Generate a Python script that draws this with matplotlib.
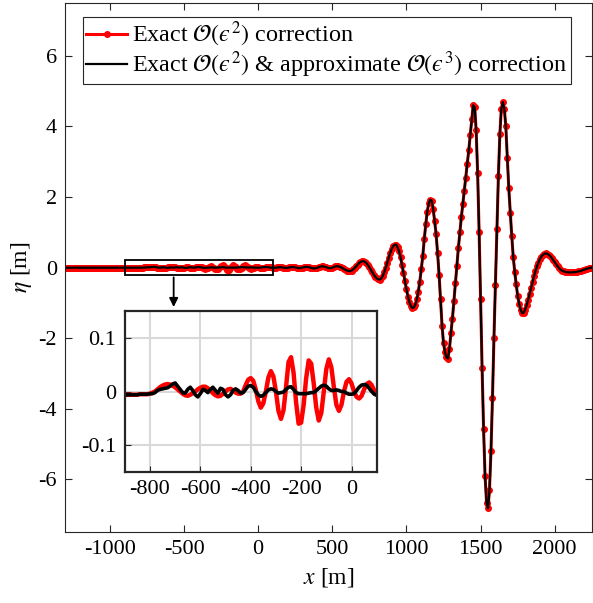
import numpy as np
import matplotlib
matplotlib.use('Agg')
import matplotlib.pyplot as plt
from matplotlib.patches import Rectangle

plt.rcParams['font.family'] = ['Liberation Serif', 'DejaVu Serif']
plt.rcParams['mathtext.fontset'] = 'stix'
plt.rcParams['axes.unicode_minus'] = False

# sample positions [m]
x_far = np.arange(-1300, -900, 10)
x_zoom = np.arange(-900, 101, 10)
x_wave = np.arange(110, 2251, 10)

# far left, nearly flat
eta_far = [-0.006] * 10 + [-0.005] * 10 + [-0.006] * 10 + [-0.006] * 10

# zoomed window -900..100, exact O(eps^2)
eta_o2_zoom = [
    -0.006, -0.006, -0.006, -0.006, -0.006, -0.006, -0.005, -0.005, -0.005, -0.005,
    -0.004, -0.002, 0.0, 0.004, 0.008, 0.011, 0.013, 0.014, 0.013, 0.011,
    0.008, 0.004, 0.0, -0.004, -0.007, -0.008, -0.006, -0.003, 0.0, 0.004,
    0.007, 0.009, 0.009, 0.006, 0.002, -0.003, -0.007, -0.009, -0.008, -0.004,
    0.0, 0.004, 0.005, 0.002, -0.002, -0.004, -0.004, 0.0, 0.012, 0.022,
    0.025, 0.02, 0.004, -0.018, -0.03, -0.022, 0.0, 0.026, 0.038, 0.028,
    0.0, -0.036, -0.051, -0.035, 0.008, 0.055, 0.064, 0.035, -0.02, -0.06,
    -0.058, -0.025, 0.025, 0.058, 0.052, 0.015, -0.03, -0.054, -0.04, 0.0,
    0.042, 0.06, 0.045, 0.008, -0.025, -0.036, -0.025, 0.0, 0.018, 0.023,
    0.015, 0.0, -0.01, -0.013, -0.008, 0.004, 0.014, 0.017, 0.012, 0.002, -0.005,
]

# zoomed window -900..100, exact O(eps^2) & approx O(eps^3)
eta_o3_zoom = [
    -0.006, -0.006, -0.006, -0.006, -0.006, -0.006, -0.005, -0.005, -0.005, -0.005,
    -0.004, -0.004, -0.002, 0.002, 0.004, 0.005, 0.006, 0.007, 0.01, 0.014,
    0.016, 0.01, 0.004, -0.002, -0.003, 0.004, 0.008, 0.002, -0.006, -0.01,
    -0.004, 0.004, 0.002, -0.002, 0.004, 0.008, 0.002, -0.003, 0.006, 0.004,
    -0.006, -0.01, -0.006, 0.002, 0.005, 0.002, -0.003, -0.002, 0.004, 0.01,
    0.011, 0.008, 0.0, -0.006, -0.009, -0.007, -0.002, 0.003, 0.005, 0.004,
    0.0, -0.003, -0.002, -0.001, 0.004, 0.008, 0.009, 0.004, -0.002, -0.004,
    -0.004, -0.004, -0.004, -0.003, -0.002, -0.002, 0.002, 0.006, 0.01, 0.012,
    0.01, 0.005, 0.002, 0.002, 0.003, 0.002, 0.0, 0.0, -0.003, -0.005,
    -0.005, -0.004, 0.002, 0.008, 0.012, 0.013, 0.012, 0.006, 0.0, -0.005, -0.007,
]

# wave group 110..2250 (both corrections coincide)
eta_wave = [
    -0.008, -0.005, 0.002, 0.008, 0.01, 0.006, -0.002, -0.008, -0.01, -0.006,
    0.002, 0.01, 0.014, 0.012, 0.004, -0.006, -0.014, -0.016, -0.01, 0.0,
    0.012, 0.02, 0.02, 0.012, 0.0, -0.014, -0.024, -0.026, -0.018, -0.004,
    0.012, 0.026, 0.034, 0.032, 0.022, 0.006, -0.01, -0.018, -0.016, -0.004,
    0.014, 0.03, 0.038, 0.032, 0.02,
    0.003, -0.021, -0.046, -0.069, -0.087, -0.098, -0.1, -0.085, -0.056, -0.015,
    0.033, 0.081, 0.125, 0.158, 0.177, 0.18, 0.16, 0.123, 0.07, 0.006,
    -0.065, -0.138, -0.206, -0.264, -0.307, -0.333, -0.34, -0.31, -0.24, -0.137,
    -0.009, 0.133, 0.277, 0.411, 0.523, 0.603, 0.645, 0.648, 0.579, 0.457,
    0.287, 0.079, -0.155, -0.393, -0.622, -0.823, -0.986, -1.097, -1.147, -1.13,
    -1.05, -0.9, -0.68, -0.4, -0.05, 0.33, 0.8, 1.22, 1.58, 1.82,
    1.92, 1.9, 1.67, 1.31, 0.95, 0.4, -0.2, -0.9, -1.65, -2.15,
    -2.4, -2.55, -2.58, -2.3, -1.85, -1.45, -0.95, -0.45, 0.05, 0.55,
    1.0, 1.42, 1.8, 2.18, 2.55, 2.93, 3.32, 3.75, 4.2, 4.6,
    4.55, 3.9, 2.67, 1.01, -0.9, -2.84, -4.57, -5.9, -6.67, -6.83,
    -6.3, -5.2, -3.7, -2.0, -0.5, 1.1, 2.6, 3.8, 4.5, 4.69,
    4.5, 4.0, 3.1, 2.25, 1.55, 0.9, 0.31, -0.12, -0.48, -0.8,
    -1.03, -1.2, -1.29, -1.28, -1.2, -1.07, -0.92, -0.75, -0.58, -0.41,
    -0.25, -0.1, 0.03, 0.14, 0.24, 0.31, 0.36, 0.39, 0.4, 0.39,
    0.36, 0.32, 0.27, 0.21, 0.15, 0.09, 0.03, -0.02, -0.06, -0.09,
    -0.11, -0.12, -0.13, -0.135, -0.14, -0.14, -0.135, -0.13, -0.13, -0.12,
    -0.11, -0.1, -0.09, -0.07, -0.06, -0.04, -0.03, -0.02, -0.01, 0.0,
]

x_ticks = [-1000, -500, 0, 500, 1000, 1500, 2000]
y_ticks = [-6, -4, -2, 0, 2, 4, 6]
zx_ticks = [-800, -600, -400, -200, 0]
zy_ticks = [-0.1, 0, 0.1]

lab_o2 = r'Exact $\mathcal{O}(ϵ^2)$ correction'
lab_o3 = r'Exact $\mathcal{O}(ϵ^2)$ & approximate $\mathcal{O}(ϵ^3)$ correction'

x = np.concatenate([x_far, x_zoom, x_wave])
eta_o2 = np.concatenate([eta_far, eta_o2_zoom, eta_wave])
eta_o3 = np.concatenate([eta_far, eta_o3_zoom, eta_wave])

fig = plt.figure(figsize=(5.93, 6.03), dpi=100)
ax = fig.add_axes([0.1103, 0.1177, 0.8877, 0.8773])
ax.plot(x, eta_o2, '-o', color='r', lw=2.2, ms=4, label=lab_o2)
ax.plot(x, eta_o3, '-', color='k', lw=1.6, label=lab_o3)
ax.set_xlim(-1300, 2250)
ax.set_ylim(-7.5, 7.5)
ax.set_xticks(x_ticks)
ax.set_yticks(y_ticks)
ax.tick_params(direction='in', top=True, right=True, labelsize=16, length=5,
               color='0.15', pad=6)
for s in ax.spines.values():
    s.set_color('0.15')
    s.set_linewidth(0.8)
ax.set_xlabel(r'$x$ [m]', fontsize=17, labelpad=5)
ax.set_ylabel(r'$\eta$ [m]', fontsize=17, labelpad=3)

leg = ax.legend(loc='upper left', bbox_to_anchor=(0.033, 0.974), borderaxespad=0,
                fontsize=17.4, fancybox=False, framealpha=1, edgecolor='0.15',
                handlelength=1.7, handletextpad=0.2, borderpad=0.15, labelspacing=0.0)
leg.get_frame().set_linewidth(0.8)

# zoom box and arrow
ax.add_patch(Rectangle((-900, -0.2), 1000, 0.4, fill=False, ec='k', lw=1.3, zorder=5))
ax.annotate('', xy=(-570, -1.2), xytext=(-570, -0.2),
            arrowprops=dict(arrowstyle='-|>', color='k', lw=1.3, mutation_scale=13))

# inset
ax2 = fig.add_axes([0.2103, 0.2172, 0.425, 0.267])
ax2.plot(x_zoom, eta_o2_zoom, color='r', lw=3.2)
ax2.plot(x_zoom, eta_o3_zoom, color='k', lw=2.6)
ax2.set_xlim(-900, 100)
ax2.set_ylim(-0.15, 0.15)
ax2.set_xticks(zx_ticks)
ax2.set_yticks(zy_ticks)
ax2.set_yticklabels(['-0.1', '0', '0.1'])
ax2.grid(True, color='0.85', lw=1.5)
ax2.set_axisbelow(True)
ax2.tick_params(direction='in', labelsize=16, length=4, color='0.15', pad=6)
for s in ax2.spines.values():
    s.set_color('0.15')
    s.set_linewidth(1.6)

fig.savefig('out.png', dpi=100)
